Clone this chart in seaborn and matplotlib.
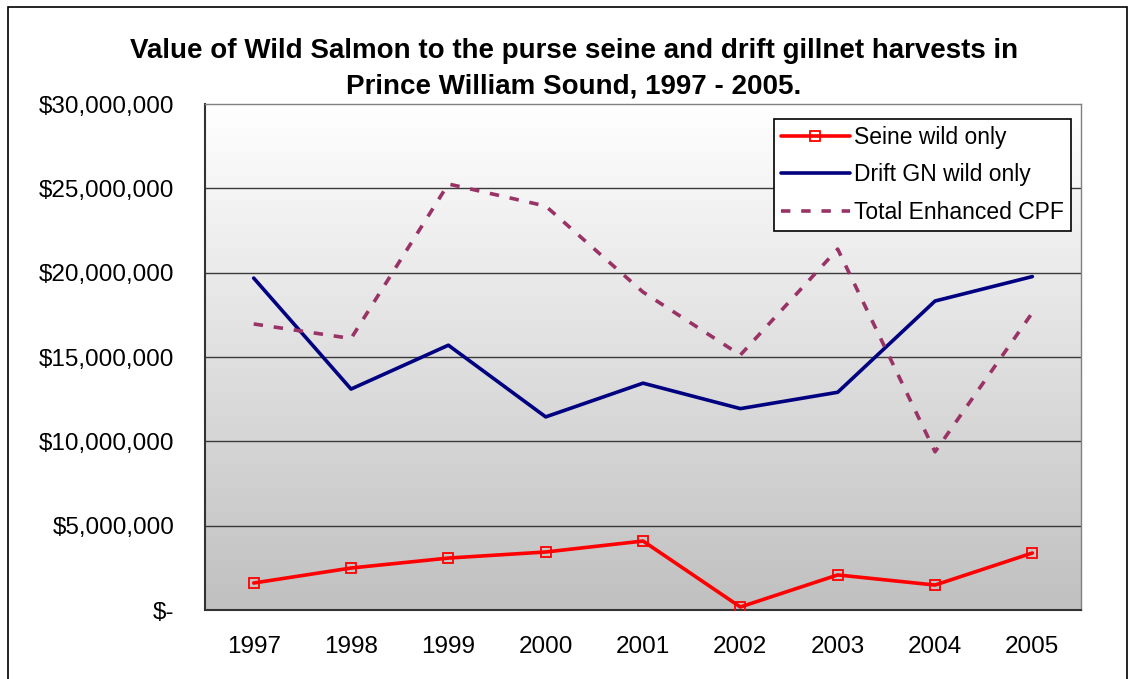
import numpy as np
import pandas as pd
import matplotlib
matplotlib.use("Agg")
import matplotlib.pyplot as plt
import seaborn as sns
from matplotlib.patches import Rectangle
from matplotlib.ticker import FuncFormatter

years = ["1997", "1998", "1999", "2000", "2001", "2002", "2003", "2004", "2005"]
seine_wild = [1.60e6, 2.49e6, 3.08e6, 3.44e6, 4.09e6, 0.18e6, 2.08e6, 1.48e6, 3.38e6]
drift_wild = [19.68e6, 13.10e6, 15.70e6, 11.45e6, 13.45e6, 11.94e6, 12.91e6, 18.32e6, 19.77e6]
total_cpf = [16.96e6, 16.10e6, 25.26e6, 23.95e6, 18.85e6, 15.12e6, 21.40e6, 9.38e6, 17.63e6]

sns.set_style("white")
plt.rcParams["font.family"] = ["Liberation Sans", "DejaVu Sans"]
plt.rcParams["text.color"] = "black"
plt.rcParams["xtick.color"] = "black"
plt.rcParams["ytick.color"] = "black"

df = pd.DataFrame({
    "year": years * 3,
    "value": seine_wild + drift_wild + total_cpf,
    "series": ["Seine wild only"] * 9 + ["Drift GN wild only"] * 9 + ["Total Enhanced CPF"] * 9,
})

fig = plt.figure(figsize=(11.34, 6.79), dpi=100)
ax = fig.add_axes([0.1808, 0.1016, 0.7725, 0.7452])

# gradient plot area background
grad = np.linspace(1, 0, 256).reshape(-1, 1)
ax.imshow(grad, extent=[0, 1, 0, 1], transform=ax.transAxes, aspect="auto",
          cmap=matplotlib.colors.LinearSegmentedColormap.from_list("g", ["#c0c0c0", "#ffffff"]),
          zorder=0)

for v in [5e6, 10e6, 15e6, 20e6, 25e6]:
    ax.axhline(v, color="#3a3a3a", lw=1.0, zorder=1)

sub = df[df.series == "Seine wild only"]
sns.lineplot(data=sub, x="year", y="value", ax=ax, color="#ff0000", lw=2.6,
             marker="s", markersize=7.5, markerfacecolor="none", markeredgecolor="#ff0000",
             markeredgewidth=1.3, label="Seine wild only", zorder=3)
sub = df[df.series == "Drift GN wild only"]
sns.lineplot(data=sub, x="year", y="value", ax=ax, color="#000080", lw=2.6,
             label="Drift GN wild only", zorder=3)
sub = df[df.series == "Total Enhanced CPF"]
sns.lineplot(data=sub, x="year", y="value", ax=ax, color="#993366", lw=2.6,
             dashes=False, label="Total Enhanced CPF", zorder=3)
ax.lines[-1].set_dashes([2.6, 3.0])

ax.set_xlim(-0.5, 8.5)
ax.set_ylim(0, 30e6)
ax.set_xticks(range(len(years)))
ax.set_xticklabels(years)
ax.set_xticks(np.arange(-0.5, 9, 1), minor=True)
ax.tick_params(axis="x", which="major", length=0, pad=19, labelsize=17.5)
ax.tick_params(axis="x", which="minor", length=5, width=1, color="#333333", direction="out")
ax.set_yticks(np.arange(0, 30e6 + 1, 5e6))
ax.yaxis.set_major_formatter(FuncFormatter(lambda v, p: "$-" if v == 0 else f"${v:,.0f}"))
ax.tick_params(axis="y", length=6, width=1, color="#333333", direction="out", pad=16, labelsize=17.5)
ax.set_xlabel("")
ax.set_ylabel("")

for s in ["top", "right"]:
    ax.spines[s].set_color("#808080")
    ax.spines[s].set_linewidth(1)
for s in ["left", "bottom"]:
    ax.spines[s].set_color("#333333")
    ax.spines[s].set_linewidth(1.5)

leg = ax.legend(loc="upper right", bbox_to_anchor=(0.9886, 0.9705), fontsize=16.5,
                frameon=True, fancybox=False, edgecolor="black", framealpha=1,
                borderpad=0.3, labelspacing=0.64, handlelength=3.0, handletextpad=0.2,
                borderaxespad=0)
leg.get_frame().set_linewidth(1.2)

fig.text(0.506, 0.8985, "Value of Wild Salmon to the purse seine and drift gillnet harvests in\n"
         "Prince William Sound, 1997 - 2005.", ha="center", va="center",
         fontsize=20, fontweight="bold", linespacing=1.45)

fig.patches.append(Rectangle((8 / 1134, -0.1), 1119 / 1134, 1.1 - 7 / 679,
                             transform=fig.transFigure, fill=False, edgecolor="black", lw=1.2))

fig.savefig("out.png", dpi=100)
